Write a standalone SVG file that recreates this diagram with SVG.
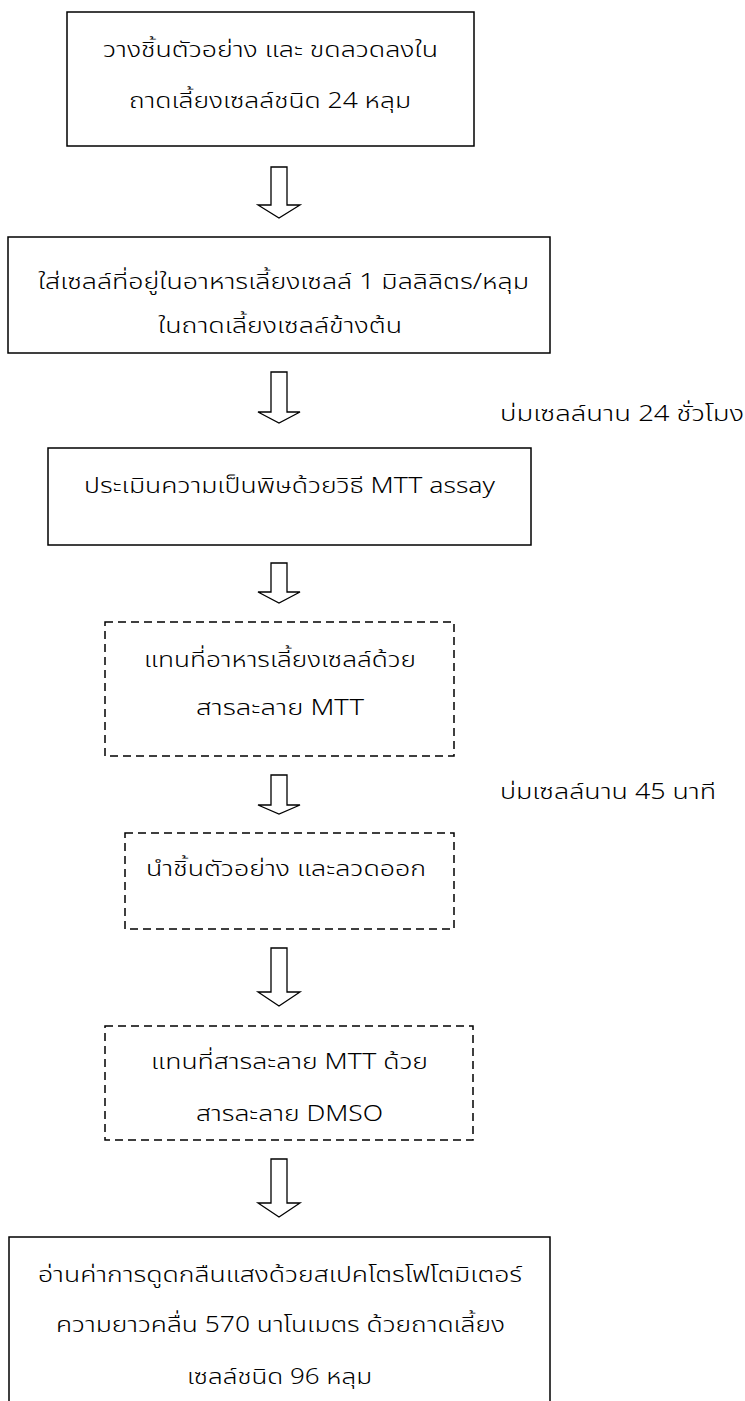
<svg xmlns="http://www.w3.org/2000/svg" width="745" height="1401" viewBox="0 0 745 1401">
<style>
.box{fill:#fff;stroke:#000;stroke-width:1.5}
.dash{fill:#fff;stroke:#000;stroke-width:1.5;stroke-dasharray:8 5}
.arr{fill:#fff;stroke:#000;stroke-width:1.3;stroke-linejoin:miter}
text{font-family:"Noto Sans Thai","Noto Sans","DejaVu Sans",sans-serif;font-size:22px;font-weight:300;fill:#000}
</style>
<rect width="745" height="1401" fill="#fff"/>
<g id="connectors">
<path class="arr" d="M271 167H287V205H300L279 218L258 205H271Z"/>
<path class="arr" d="M271 372H287V412H300L279 423L258 412H271Z"/>
<path class="arr" d="M271 563H287V592H300L279 603L258 592H271Z"/>
<path class="arr" d="M271 775H287V805H300L279 814L258 805H271Z"/>
<path class="arr" d="M271 948H287V992H300L279 1006L258 992H271Z"/>
<path class="arr" d="M271 1159H287V1203H300L279 1217L258 1203H271Z"/>
</g>
<g id="label1"><text x="500" y="421" textLength="244" lengthAdjust="spacingAndGlyphs">บ่มเซลล์นาน 24 ชั่วโมง</text></g>
<g id="label2"><text x="500" y="799" textLength="216" lengthAdjust="spacingAndGlyphs">บ่มเซลล์นาน 45 นาที</text></g>
<g id="n1">
<rect class="box" x="67" y="12" width="407" height="134"/>
<text x="103" y="57" textLength="335" lengthAdjust="spacingAndGlyphs">วางชิ้นตัวอย่าง และ ขดลวดลงใน</text>
<text x="129" y="108" textLength="282" lengthAdjust="spacingAndGlyphs">ถาดเลี้ยงเซลล์ชนิด 24 หลุม</text>
</g>
<g id="n2">
<rect class="box" x="8" y="237" width="542" height="116"/>
<text x="38" y="289" textLength="491" lengthAdjust="spacingAndGlyphs">ใส่เซลล์ที่อยู่ในอาหารเลี้ยงเซลล์ 1 มิลลิลิตร/หลุม</text>
<text x="158" y="333" textLength="244" lengthAdjust="spacingAndGlyphs">ในถาดเลี้ยงเซลล์ข้างต้น</text>
</g>
<g id="n3">
<rect class="box" x="48" y="448" width="483" height="97"/>
<text x="84" y="493" textLength="411" lengthAdjust="spacingAndGlyphs">ประเมินความเป็นพิษด้วยวิธี MTT assay</text>
</g>
<g id="n4">
<rect class="dash" x="105" y="622" width="349" height="134"/>
<text x="144" y="667" textLength="272" lengthAdjust="spacingAndGlyphs">แทนที่อาหารเลี้ยงเซลล์ด้วย</text>
<text x="196" y="715" textLength="168" lengthAdjust="spacingAndGlyphs">สารละลาย MTT</text>
</g>
<g id="n5">
<rect class="dash" x="125" y="833" width="329" height="96"/>
<text x="146" y="876" textLength="280" lengthAdjust="spacingAndGlyphs">นำชิ้นตัวอย่าง และลวดออก</text>
</g>
<g id="n6">
<rect class="dash" x="105" y="1026" width="368" height="114"/>
<text x="151" y="1069" textLength="277" lengthAdjust="spacingAndGlyphs">แทนที่สารละลาย MTT ด้วย</text>
<text x="196" y="1121" textLength="187" lengthAdjust="spacingAndGlyphs">สารละลาย DMSO</text>
</g>
<g id="n7">
<rect class="box" x="9" y="1237" width="541" height="200"/>
<text x="38" y="1282" textLength="484" lengthAdjust="spacingAndGlyphs">อ่านค่าการดูดกลืนแสงด้วยสเปคโตรโฟโตมิเตอร์</text>
<text x="56" y="1332" textLength="449" lengthAdjust="spacingAndGlyphs">ความยาวคลื่น 570 นาโนเมตร ด้วยถาดเลี้ยง</text>
<text x="187" y="1384" textLength="185" lengthAdjust="spacingAndGlyphs">เซลล์ชนิด 96 หลุม</text>
</g>
</svg>
